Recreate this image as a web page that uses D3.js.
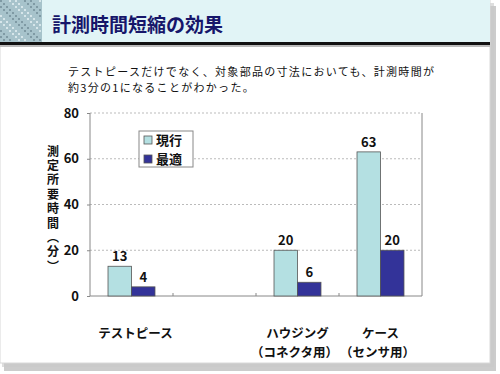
<!DOCTYPE html>
<html>
<head>
<meta charset="utf-8">
<script src="https://cdn.jsdelivr.net/npm/d3@7"></script>
<style>
  html, body { margin: 0; padding: 0; background: #fff; }
  text { font-family: "Noto Sans CJK JP", sans-serif; }
</style>
</head>
<body>
<div id="container"></div>
<script>
"use strict";

const categories = ["テストピース", "", "ハウジング\n（コネクタ用）", "ケース\n（センサ用）"];
const seriesNames = ["現行", "最適"];
const currentValues = [13, null, 20, 63];
const optimalValues = [4, null, 6, 20];
const yTicks = [0, 20, 40, 60, 80];

const width = 500;
const height = 374;
const colors = ["#b4e0e2", "#333399"];

const svg = d3.select("#container").append("svg")
  .attr("width", width)
  .attr("height", height);

// slide background + shadow
svg.append("rect").attr("x", 4).attr("y", 6).attr("width", 492).attr("height", 365).attr("fill", "#9a9a9a").attr("opacity", 0.5);
svg.append("rect").attr("x", 2).attr("y", 3).attr("width", 492).attr("height", 364).attr("fill", "#c8c8c8").attr("opacity", 0.6);
svg.append("rect").attr("x", 0).attr("y", 0).attr("width", 490).attr("height", 363)
  .attr("fill", "#fff").attr("stroke", "#d8d8d8").attr("stroke-width", 1);

// header band
svg.append("rect").attr("x", 0).attr("y", 0).attr("width", 490).attr("height", 42).attr("fill", "#e1f4f6");
const tex = svg.append("g");
tex.append("rect").attr("x", 0).attr("y", 0).attr("width", 42).attr("height", 42).attr("fill", "#a7c3cb");
for (let i = 0; i < 14; i++) {
  for (let j = 0; j < 14; j++) {
    if ((i * 7 + j * 3) % 5 < 2) {
      tex.append("rect").attr("x", i * 3).attr("y", j * 3).attr("width", 2).attr("height", 2)
        .attr("fill", (i + j) % 2 ? "#d6e6ea" : "#7f9aa4");
    }
  }
}
svg.append("rect").attr("x", 0).attr("y", 42).attr("width", 490).attr("height", 3).attr("fill", "#111");
svg.append("rect").attr("x", 0).attr("y", 45).attr("width", 490).attr("height", 2).attr("fill", "#bbb");

svg.append("text")
  .attr("x", 52).attr("y", 32)
  .attr("font-size", 19).attr("font-weight", "bold")
  .attr("fill", "#16166a")
  .text("計測時間短縮の効果");

const sub = svg.append("text").attr("font-size", 11).attr("fill", "#111")
  .style("letter-spacing", "1.3px");
sub.append("tspan").attr("x", 68).attr("y", 76).text("テストピースだけでなく、対象部品の寸法においても、計測時間が");
sub.append("tspan").attr("x", 68).attr("y", 92).text("約3分の1になることがわかった。");

// plot
const plot = { left: 90, right: 422, top: 113, bottom: 296 };

const x = d3.scaleBand()
  .domain(d3.range(categories.length))
  .range([plot.left, plot.right]);

const y = d3.scaleLinear()
  .domain([0, 80])
  .range([plot.bottom, plot.top]);

const barW = x.bandwidth() * 0.283;

// grid
svg.append("g").selectAll("line")
  .data(yTicks.filter(d => d > 0))
  .enter().append("line")
  .attr("x1", plot.left).attr("x2", plot.right)
  .attr("y1", d => y(d)).attr("y2", d => y(d))
  .attr("stroke", "#aaa").attr("stroke-width", 0.8)
  .attr("stroke-dasharray", "2,2");

// frame
svg.append("path")
  .attr("d", `M${plot.left},${plot.top}V${plot.bottom}H${plot.right}V${plot.top}`)
  .attr("fill", "none").attr("stroke", "#888").attr("stroke-width", 1);

// y axis
const yAxis = d3.axisLeft(y).tickValues(yTicks).tickSize(3).tickPadding(8);
const yg = svg.append("g").attr("transform", `translate(${plot.left},0)`).call(yAxis);
yg.select(".domain").remove();
yg.selectAll("line").attr("stroke", "#888");
yg.selectAll("text")
  .attr("font-family", "Arial, 'Liberation Sans', sans-serif")
  .attr("font-size", 13).attr("font-weight", "bold").attr("fill", "#111");

// x ticks (inward) at band boundaries
svg.append("g").selectAll("line")
  .data(d3.range(1, categories.length))
  .enter().append("line")
  .attr("x1", d => x(d)).attr("x2", d => x(d))
  .attr("y1", plot.bottom).attr("y2", plot.bottom - 3)
  .attr("stroke", "#888");

// bars
const series = [currentValues, optimalValues];
series.forEach((vals, s) => {
  const g = svg.append("g");
  const data = vals.map((v, i) => ({ v, i })).filter(d => d.v != null);
  g.selectAll("rect").data(data).enter().append("rect")
    .attr("x", d => x(d.i) + x.bandwidth() / 2 + (s - 1) * barW)
    .attr("y", d => y(d.v))
    .attr("width", barW)
    .attr("height", d => y(0) - y(d.v))
    .attr("fill", colors[s])
    .attr("stroke", "#555").attr("stroke-width", 0.8);
  g.selectAll("text").data(data).enter().append("text")
    .attr("x", d => x(d.i) + x.bandwidth() / 2 + (s - 0.5) * barW)
    .attr("y", d => y(d.v) - 5)
    .attr("text-anchor", "middle")
    .attr("font-family", "Arial, 'Liberation Sans', sans-serif")
    .attr("font-size", 13).attr("font-weight", "bold").attr("fill", "#111")
    .text(d => d.v);
});

// category labels
categories.forEach((c, i) => {
  const lines = c.split("\n");
  const t = svg.append("text")
    .attr("text-anchor", "middle")
    .attr("font-size", 12.5).attr("font-weight", "bold").attr("fill", "#111");
  lines.forEach((ln, k) => {
    t.append("tspan")
      .attr("x", x(i) + x.bandwidth() / 2 + (i === 0 ? 4 : 0) - (k === 1 ? 3 : 0))
      .attr("y", 338 + k * 19)
      .text(ln);
  });
});

// y axis title (vertical writing)
svg.append("text")
  .attr("x", 53).attr("y", 145)
  .style("writing-mode", "vertical-rl")
  .style("letter-spacing", "2.4px")
  .attr("font-size", 12).attr("font-weight", "bold").attr("fill", "#111")
  .text("測定所要時間（分）");

// legend
const lg = svg.append("g").attr("transform", "translate(139,131)");
lg.append("rect").attr("width", 54).attr("height", 36)
  .attr("fill", "#fff").attr("stroke", "#888").attr("stroke-width", 1);
seriesNames.forEach((n, k) => {
  lg.append("rect").attr("x", 5).attr("y", 5 + k * 19).attr("width", 8).attr("height", 8)
    .attr("fill", colors[k]).attr("stroke", "#555").attr("stroke-width", 0.8);
  lg.append("text").attr("x", 17).attr("y", 14 + k * 19)
    .attr("font-size", 13).attr("font-weight", "bold").attr("fill", "#111")
    .text(n);
});
</script>
</body>
</html>
